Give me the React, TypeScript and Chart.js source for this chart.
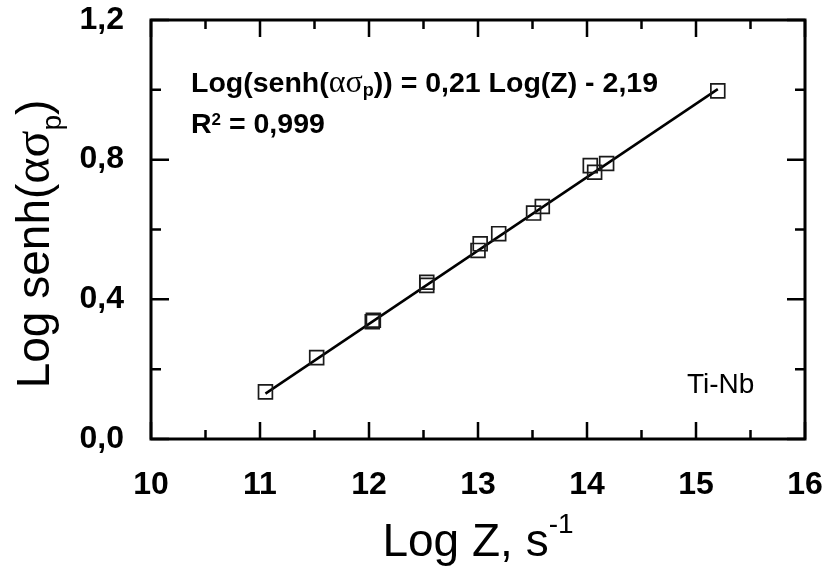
import React, { useEffect, useRef } from "react";
import { Chart, registerables } from "chart.js";

Chart.register(...registerables);

// ---- data ----
const logZ = [11.05, 11.52, 12.03, 12.04, 12.53, 12.53, 13.0, 13.02, 13.19, 13.51, 13.59, 14.03, 14.07, 14.18, 15.2];
const logSenh = [0.135, 0.233, 0.336, 0.34, 0.449, 0.44, 0.54, 0.559, 0.588, 0.647, 0.666, 0.783, 0.764, 0.789, 0.997];
const fitX = [11.05, 15.2];
const fitY = [0.13, 1.002];

const xMin = 10, xMax = 16, xStep = 1;
const yMin = 0, yMax = 1.2, yStep = 0.4;

const eqMain = "Log(senh(";
const eqGreek = "ασ";
const eqSub = "p";
const eqRest = ")) = 0,21 Log(Z) - 2,19";
const r2Main = "R";
const r2Sup = "2";
const r2Rest = " = 0,999";
const alloyLabel = "Ti-Nb";
const xTitleMain = "Log Z, s";
const xTitleSup = "-1";
const yTitleMain = "Log senh(";
const yTitleGreek = "ασ";
const yTitleSub = "p";
const yTitleEnd = ")";

const SANS = '"Liberation Sans", Arial, sans-serif';
const SERIF = '"Liberation Serif", "Times New Roman", serif';

type Seg = { t: string; size: number; bold?: boolean; serif?: boolean; dy?: number };

function segFont(s: Seg) {
  return `${s.bold ? "bold " : ""}${s.size}px ${s.serif ? SERIF : SANS}`;
}
function measureRich(ctx: CanvasRenderingContext2D, segs: Seg[]) {
  let w = 0;
  for (const s of segs) {
    ctx.font = segFont(s);
    w += ctx.measureText(s.t).width;
  }
  return w;
}
function drawRich(ctx: CanvasRenderingContext2D, segs: Seg[], x: number, y: number) {
  let cx = x;
  for (const s of segs) {
    ctx.font = segFont(s);
    ctx.fillText(s.t, cx, y + (s.dy || 0));
    cx += ctx.measureText(s.t).width;
  }
}

const framePlugin = {
  id: "frameTicks",
  afterDraw(chart: any) {
    const ctx: CanvasRenderingContext2D = chart.ctx;
    const a = chart.chartArea;
    const xs = chart.scales.x;
    const ys = chart.scales.y;
    ctx.save();
    ctx.strokeStyle = "#000";
    ctx.fillStyle = "#000";
    // frame
    ctx.lineWidth = 3;
    ctx.strokeRect(a.left, a.top, a.right - a.left, a.bottom - a.top);
    // ticks
    ctx.lineWidth = 2.5;
    const xt = xs.ticks.map((t: any) => t.value);
    const yt = ys.ticks.map((t: any) => t.value);
    const drawX = (v: number, len: number) => {
      const px = xs.getPixelForValue(v);
      ctx.beginPath();
      ctx.moveTo(px, a.bottom);
      ctx.lineTo(px, a.bottom - len);
      ctx.moveTo(px, a.top);
      ctx.lineTo(px, a.top + len);
      ctx.stroke();
    };
    const drawY = (v: number, len: number) => {
      const py = ys.getPixelForValue(v);
      ctx.beginPath();
      ctx.moveTo(a.left, py);
      ctx.lineTo(a.left + len, py);
      ctx.moveTo(a.right, py);
      ctx.lineTo(a.right - len, py);
      ctx.stroke();
    };
    xt.forEach((v: number, i: number) => {
      drawX(v, 17);
      if (i < xt.length - 1) drawX((v + xt[i + 1]) / 2, 9);
    });
    yt.forEach((v: number, i: number) => {
      drawY(v, 18);
      if (i < yt.length - 1) drawY((v + yt[i + 1]) / 2, 10);
    });

    // texts
    ctx.textAlign = "left";
    ctx.textBaseline = "alphabetic";
    const line1: Seg[] = [
      { t: eqMain, size: 28.5, bold: true },
      { t: eqGreek, size: 32, serif: true },
      { t: eqSub, size: 18, bold: true, dy: 4 },
      { t: eqRest, size: 28.5, bold: true },
    ];
    drawRich(ctx, line1, 191, 92);
    const line2: Seg[] = [
      { t: r2Main, size: 28.5, bold: true },
      { t: r2Sup, size: 17, bold: true, dy: -8 },
      { t: r2Rest, size: 28.5, bold: true },
    ];
    drawRich(ctx, line2, 191, 133);
    drawRich(ctx, [{ t: alloyLabel, size: 28 }], 687, 393);

    // x title
    const xT: Seg[] = [
      { t: xTitleMain, size: 46 },
      { t: xTitleSup, size: 28, dy: -23 },
    ];
    const xw = measureRich(ctx, xT);
    drawRich(ctx, xT, (a.left + a.right) / 2 - xw / 2, 556);

    // y title
    const yT: Seg[] = [
      { t: yTitleMain, size: 46 },
      { t: yTitleGreek, size: 50, serif: true },
      { t: yTitleSub, size: 28, dy: 12 },
      { t: yTitleEnd, size: 46 },
    ];
    const yw = measureRich(ctx, yT);
    ctx.save();
    ctx.translate(49, 244);
    ctx.rotate(-Math.PI / 2);
    drawRich(ctx, yT, -yw / 2, 0);
    ctx.restore();

    ctx.restore();
  },
};

export default function App() {
  const ref = useRef<HTMLCanvasElement>(null);
  useEffect(() => {
    if (!ref.current) return;
    const points = logZ.map((x, i) => ({ x, y: logSenh[i] }));
    const fit = fitX.map((x, i) => ({ x, y: fitY[i] }));
    const chart = new Chart(ref.current, {
      type: "scatter",
      data: {
        datasets: [
          {
            data: fit,
            showLine: true,
            borderColor: "#000",
            borderWidth: 2.5,
            pointRadius: 0,
            backgroundColor: "#000",
            order: 2,
          } as any,
          {
            data: points,
            showLine: false,
            pointStyle: "rect",
            pointRadius: 9.8,
            pointBorderWidth: 1.7,
            borderColor: "#1a1a1a",
            backgroundColor: "rgba(0,0,0,0)",
            order: 1,
          } as any,
        ],
      },
      options: {
        animation: false,
        responsive: false,
        devicePixelRatio: 1,
        layout: { padding: { top: 20, right: 26, left: 0, bottom: 0 } },
        plugins: { legend: { display: false }, tooltip: { enabled: false } },
        scales: {
          x: {
            type: "linear",
            min: xMin,
            max: xMax,
            grid: { display: false },
            border: { display: false },
            ticks: {
              stepSize: xStep,
              color: "#000",
              padding: 19,
              font: { family: SANS, size: 32, weight: "bold" },
              maxRotation: 0,
            },
            afterFit: (s: any) => {
              s.height = 132;
              s.paddingLeft = 0;
              s.paddingRight = 0;
            },
          },
          y: {
            type: "linear",
            min: yMin,
            max: yMax,
            grid: { display: false },
            border: { display: false },
            ticks: {
              stepSize: yStep,
              color: "#000",
              padding: 19,
              font: { family: SANS, size: 32, weight: "bold" },
              callback: (v: any) => Number(v).toFixed(1).replace(".", ","),
            },
            afterFit: (s: any) => {
              s.width = 151;
              s.paddingTop = 0;
              s.paddingBottom = 0;
            },
          },
        },
      } as any,
      plugins: [framePlugin],
    });
    return () => chart.destroy();
  }, []);
  return (
    <div style={{ position: "absolute", left: 0, top: 0, width: 831, height: 571, background: "#fff" }}>
      <canvas ref={ref} width={831} height={571} style={{ display: "block" }} />
    </div>
  );
}
